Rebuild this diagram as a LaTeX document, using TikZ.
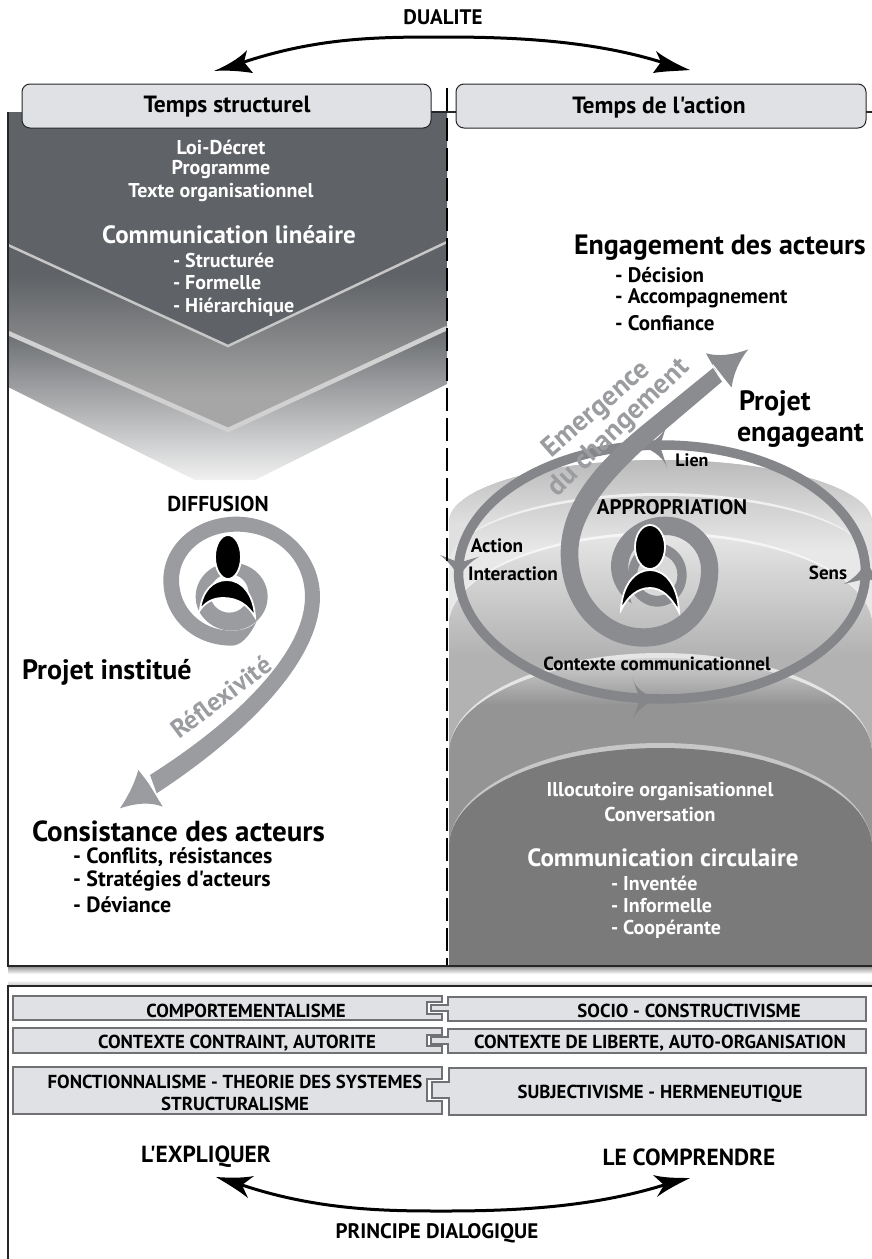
\documentclass[tikz,border=0pt]{standalone}
\usepackage{fontspec}
\setmainfont{PT Sans}[Ligatures=TeXOff]
\definecolor{dark}{HTML}{5F6266}
\definecolor{boxfill}{HTML}{DFE1E4}
\definecolor{boxline}{HTML}{6F7174}
\definecolor{spir}{HTML}{9A9CA0}
\definecolor{spirb}{HTML}{8A8C90}
\definecolor{ringc}{HTML}{84868A}
\definecolor{txtgray}{HTML}{9A9CA0}
\newcommand{\fs}[1]{\fontsize{#1}{#1}\selectfont\bfseries}
\newcommand{\domepath}[2]{(449,975) -- (449,#2) .. controls (449,{#2-0.5523*(#2-#1)}) and (544,#1) .. (660.5,#1) .. controls (777,#1) and (872,{#2-0.5523*(#2-#1)}) .. (872,#2) -- (872,975) -- cycle}
\newcommand{\domefill}[7]{% top bot rimcol innertop c1 c2 endy
  \fill[#3] \domepath{#1}{#2};
  \begin{scope}\clip \domepath{#4}{#2};
  \shade[top color=#5,bottom color=#6] (449,#4) rectangle (872,#7);
  \fill[#6] (449,#7) rectangle (872,975);
  \end{scope}}
\tikzset{
  t/.style={inner sep=0pt,outer sep=0pt,align=center},
  tl/.style={inner sep=0pt,outer sep=0pt,anchor=west},
  wt/.style={text=white},
  head/.style={fill=boxfill,draw=black!85,line width=1pt,rounded corners=8pt},
  piece/.style={fill=boxfill,draw=boxline,line width=1.4pt},
  tip/.style={fill=black},
}
\begin{document}
\begin{tikzpicture}[x=1pt,y=-1pt]
\useasboundingbox (0,0) rectangle (872,1259);
\clip (0,0) rectangle (872,1259);
% panel shadows
\shade[top color=black!45,bottom color=white] (8,966) rectangle (872,974);
\shade[top color=white,bottom color=black!25] (8,980) rectangle (872,986);
% left panel
\fill[dark] (8,112) rectangle (447,250);
\begin{scope}
  \clip (8,112) -- (447,112) -- (447,328) -- (228,430) -- (8,333) -- cycle;
  \fill[dark] (8,112) rectangle (447,275);
  \shade[top color=dark,bottom color=black!35!white] (8,275) rectangle (447,395);
  \fill[black!35!white] (8,395) rectangle (447,440);
  \fill[dark] (8,112) -- (447,112) -- (447,242) -- (228,346) -- (8,245) -- cycle;
\end{scope}
\begin{scope}
  \clip (8,333) -- (228,432) -- (447,328) -- (447,384) -- (255,480) -- (195,480) -- (8,387) -- cycle;
  \shade[top color=dark!95,bottom color=black!5!white] (8,328) rectangle (447,482);
\end{scope}
\draw[line width=2.5pt,black!22!white] (8,245) -- (228,346) -- (447,242);
\draw[line width=4.5pt,black!18!white,miter limit=4] (8,333) -- (228,430) -- (447,328);
% right panel domes
\begin{scope}
\clip (449,112) rectangle (872,965);
\domefill{460}{522}{black!25!white}{460}{black!27!white}{black!12!white}{525}
\domefill{493}{565}{black!6!white}{496}{black!20!white}{black!9!white}{550}
\domefill{532}{625}{black!4!white}{535}{black!10!white}{black!30!white}{655}
\domefill{653}{753}{black!10!white}{658}{black!18!white}{black!42!white}{705}
\domefill{743}{847}{black!22!white}{748}{black!52!white}{black!52!white}{760}
\end{scope}
% frame
\draw[line width=1.4pt,black!85] (8,112) -- (8,966) -- (872,966);
\draw[line width=1.2pt,black!85] (431,112) -- (456,112) (860,112) -- (872,112);
\draw[line width=1.4pt,black!85] (8,1259) -- (8,986) -- (872,986);
% ellipse of the context
\coordinate (ctx) at (662,572);
\draw[ringc,line width=9.5pt] (ctx) ellipse [x radius=203.5,y radius=127];
\begin{scope}[shift={(440,340)},x=0.3333pt,y=-0.3333pt]
  % ellipse arrowheads
  \coordinate (hA) at (55,715);
  \coordinate (hS) at (1282,662);
  \coordinate (hL) at (610,320);
  \coordinate (hB) at (655,1078);
  \fill[ringc] (0,645) .. controls (25,665) and (45,685) .. (hA) .. controls (68,690) and (90,665) .. (118,650) -- (58,668) -- cycle;
  \fill[ringc] (1212,732) .. controls (1245,715) and (1265,690) .. (hS) .. controls (1290,690) and (1310,720) .. (1340,732) -- (1280,716) -- cycle;
  \fill[ringc] (682,248) .. controls (675,280) and (645,305) .. (hL) .. controls (645,335) and (672,355) .. (682,384) -- (660,318) -- cycle;
  \fill[ringc] (577,1013) .. controls (585,1045) and (615,1065) .. (hB) .. controls (615,1090) and (585,1115) .. (577,1143) -- (600,1078) -- cycle;
  % right spiral
  \fill[spirb] (819,84) -- (600,262) .. controls (470,370) and (362,490) .. (362,640)
    .. controls (362,800) and (470,920) .. (610,920)
    .. controls (740,920) and (835,820) .. (835,690)
    .. controls (835,600) and (765,530) .. (675,530)
    .. controls (585,530) and (513,600) .. (513,680)
    .. controls (513,725) and (540,770) .. (575,790)
    .. controls (565,760) and (565,720) .. (565,680)
    .. controls (565,625) and (615,585) .. (675,585)
    .. controls (735,585) and (783,630) .. (783,690)
    .. controls (783,790) and (705,865) .. (610,865)
    .. controls (505,865) and (415,770) .. (415,640)
    .. controls (415,510) and (540,385) .. (675,270)
    -- (846,125) -- cycle;
  \coordinate (arrR) at (925,28);
  \fill[spirb] (arrR) .. controls (895,65) and (880,105) .. (875,142) -- (825,88) -- (798,40) .. controls (835,50) and (880,45) .. cycle;
  \draw[white,line width=1.2pt] (818,74) -- (868,138);
  % inner ring
  \fill[spirb,even odd rule] (652,705) ellipse [x radius=88,y radius=95] (652,705) ellipse [x radius=60,y radius=62];
  \fill[black!15!white] (652,705) ellipse [x radius=60,y radius=62];
\end{scope}
\begin{scope}[shift={(100,480)},x=0.3333pt,y=-0.3333pt]
  \fill[spir] (470,425) .. controls (445,475) and (420,497) .. (395,497)
    .. controls (280,497) and (190,415) .. (190,300)
    .. controls (190,195) and (285,110) .. (410,110)
    .. controls (540,110) and (660,215) .. (660,350)
    .. controls (660,560) and (400,790) .. (170,940)
    -- (150,885) .. controls (380,740) and (615,530) .. (615,350)
    .. controls (615,235) and (525,155) .. (410,155)
    .. controls (310,155) and (237,220) .. (237,300)
    .. controls (237,385) and (305,452) .. (395,452)
    .. controls (425,452) and (450,445) .. (470,425) -- cycle;
  \coordinate (arrL) at (60,985);
  \fill[spir] (arrL) .. controls (90,940) and (105,905) .. (115,870) -- (150,915) -- (188,980) .. controls (150,965) and (105,970) .. cycle;
  \draw[white,line width=1.2pt] (130,880) -- (182,965);
  \fill[spir,even odd rule] (395,350) ellipse [x radius=108,y radius=102] (388,340) ellipse [x radius=58,y radius=58];
\end{scope}
% person right
\draw[white,line width=1.8pt,fill=black] (650,547) ellipse [x radius=15,y radius=22];
\draw[white,line width=1.8pt,fill=black] (621,610) .. controls (622,585) and (635,570) .. (650,570) .. controls (665,570) and (678,585) .. (679,612) .. controls (672,598) and (662,588) .. (650,588) .. controls (638,588) and (628,596) .. cycle;
% person left
\draw[white,line width=1.8pt,fill=black] (228,557) ellipse [x radius=13,y radius=22];
\draw[white,line width=1.8pt,fill=black] (200,610) .. controls (202,592) and (212,580) .. (227,580) .. controls (242,580) and (254,595) .. (255,617) .. controls (248,605) and (238,598) .. (223,598) .. controls (212,598) and (205,603) .. cycle;
% dashed middle line
\draw[black,line width=2pt,dash pattern=on 23pt off 7pt] (447,88) -- (447,965);
% headers
\node[head,minimum width=409pt,minimum height=44pt,t] (hL1) at (226.5,106) {};
\node[head,minimum width=410pt,minimum height=44pt,t] (hR1) at (661,106) {};
\node[t,font=\fs{23.5}] (hLt) at (227,107) {Temps structurel};
\node[t,font=\fs{23.5}] (hRt) at (659,107) {Temps de l'action};
% dual arrow
\coordinate (dL) at (244,62);
\coordinate (dR) at (661,62);
\draw[line width=3pt] (dL) .. controls (320,37) and (380,37) .. (444,37) .. controls (510,37) and (590,40) .. (dR);
\fill[tip] (214,71) .. controls (226,66) and (240,58) .. (247,50) -- (244,62) -- (253,73) .. controls (240,71) and (226,70) .. cycle;
\fill[tip] (690,70) .. controls (678,65) and (665,58) .. (656,51) -- (661,62) -- (653,73) .. controls (665,71) and (678,71) .. cycle;
% bottom arrow
\coordinate (eL) at (242,1185);
\coordinate (eR) at (664,1185);
\draw[line width=3pt] (eL) .. controls (320,1211) and (390,1211) .. (444,1211) .. controls (510,1211) and (590,1208) .. (eR);
\fill[tip] (216,1177) .. controls (230,1178) and (244,1178) .. (254,1176) -- (242,1185) -- (248,1198) .. controls (238,1190) and (226,1183) .. cycle;
\fill[tip] (690,1178) .. controls (678,1178) and (664,1178) .. (653,1175) -- (664,1185) -- (657,1197) .. controls (666,1190) and (678,1184) .. cycle;
% texts top
\node[t,font=\fs{21}] (dual) at (443,17) {DUALITE};
\node[t,wt,font=\fs{20}] (a1) at (221,147) {Loi-Décret};
\node[t,wt,font=\fs{20}] (a2) at (221,170) {Programme};
\node[t,wt,font=\fs{20}] (a3) at (221,193) {Texte organisationnel};
\node[t,wt,font=\fs{25}] (a4) at (229,235) {Communication linéaire};
\node[tl,wt,font=\fs{20}] (a5) at (173,260) {- Structurée};
\node[tl,wt,font=\fs{20}] (a6) at (173,283) {- Formelle};
\node[tl,wt,font=\fs{20}] (a7) at (173,307) {- Hiérarchique};
\node[tl,font=\fs{28}] (b1) at (574,248) {Engagement des acteurs};
\node[tl,font=\fs{21}] (b2) at (615,275) {- Décision};
\node[tl,font=\fs{21}] (b3) at (615,298) {- Accompagnement};
\node[tl,font=\fs{21}] (b4) at (615,323) {- Confiance};
\node[tl,font=\fs{28}] (c1) at (739,403) {Projet};
\node[tl,font=\fs{28}] (c2) at (737,436) {engageant};
\node[t,font=\fs{18}] (c3) at (692,460) {Lien};
\node[t,font=\fs{21}] (c4) at (672,507) {APPROPRIATION};
\node[t,font=\fs{19.3}] (c5) at (497,546) {Action};
\node[t,font=\fs{19.3}] (c6) at (513,574) {Interaction};
\node[t,font=\fs{19}] (c7) at (828,573) {Sens};
\node[t,font=\fs{19}] (c8) at (657,664) {Contexte communicationnel};
\node[t,text=txtgray,font=\fs{28},rotate=41] (c9) at (597,410) {Emergence};
\node[t,text=txtgray,font=\fs{28},rotate=44] (c10) at (619,428) {du changement};
\node[t,font=\fs{21.5}] (d1) at (218,504) {DIFFUSION};
\node[tl,font=\fs{28}] (d2) at (22,672) {Projet institué};
\node[t,text=txtgray,font=\fs{26},rotate=37] (d3) at (221,697) {Réflexivité};
\node[tl,font=\fs{29}] (d4) at (32,831) {Consistance des acteurs};
\node[tl,font=\fs{22}] (d5) at (73,857) {- Conflits, résistances};
\node[tl,font=\fs{22}] (d6) at (73,881) {- Stratégies d'acteurs};
\node[tl,font=\fs{22}] (d7) at (73,905) {- Déviance};
\node[t,wt,font=\fs{20}] (e1) at (660,791) {Illocutoire organisationnel};
\node[t,wt,font=\fs{20}] (e2) at (660,814) {Conversation};
\node[t,wt,font=\fs{25}] (e3) at (663,858) {Communication circulaire};
\node[tl,wt,font=\fs{20}] (e4) at (611,883) {- Inventée};
\node[tl,wt,font=\fs{20}] (e5) at (611,906) {- Informelle};
\node[tl,wt,font=\fs{20}] (e6) at (611,929) {- Coopérante};
% puzzle rows
\draw[piece] (13,996) -- (442,996) -- (442,1002) -- (427,1002) -- (427,1014) -- (442,1014) -- (442,1020) -- (13,1020) -- cycle;
\draw[piece] (866,997) -- (448,997) -- (448,1005) -- (431,1005) -- (431,1011) -- (448,1011) -- (448,1021) -- (866,1021) -- cycle;
\draw[piece] (13,1028) -- (442,1028) -- (442,1035) -- (427,1035) -- (427,1046) -- (442,1046) -- (442,1053) -- (13,1053) -- cycle;
\draw[piece] (866,1029) -- (448,1029) -- (448,1037) -- (431,1037) -- (431,1044) -- (448,1044) -- (448,1053) -- (866,1053) -- cycle;
\draw[piece] (13,1067) -- (442,1067) -- (442,1079) -- (427,1079) -- (427,1101) -- (442,1101) -- (442,1114) -- (13,1114) -- cycle;
\draw[piece] (866,1068) -- (449,1068) -- (449,1082) -- (432,1082) -- (432,1098) -- (449,1098) -- (449,1115) -- (866,1115) -- cycle;
\node[t,font=\fs{18.8}] (f1) at (246,1011) {COMPORTEMENTALISME};
\node[t,font=\fs{18.8}] (f2) at (689,1011) {SOCIO - CONSTRUCTIVISME};
\node[t,font=\fs{18.8}] (f3) at (237,1043) {CONTEXTE CONTRAINT, AUTORITE};
\node[t,font=\fs{18.8}] (f4) at (660,1043) {CONTEXTE DE LIBERTE, AUTO-ORGANISATION};
\node[t,font=\fs{18.8}] (f5) at (235,1082) {FONCTIONNALISME - THEORIE DES SYSTEMES};
\node[t,font=\fs{18.8}] (f6) at (235,1104) {STRUCTURALISME};
\node[t,font=\fs{18.8}] (f7) at (660,1094) {SUBJECTIVISME - HERMENEUTIQUE};
\node[t,font=\fs{23.3}] (g1) at (206,1157) {L'EXPLIQUER};
\node[t,font=\fs{23.3}] (g2) at (689,1157) {LE COMPRENDRE};
\node[t,font=\fs{21}] (g3) at (437,1233) {PRINCIPE DIALOGIQUE};
\end{tikzpicture}
\end{document}
